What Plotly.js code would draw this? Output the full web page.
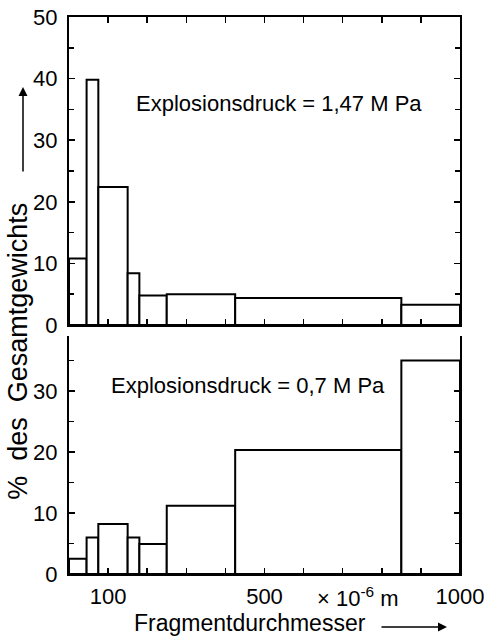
<!DOCTYPE html>
<html>
<head>
<meta charset="utf-8">
<script src="https://cdn.plot.ly/plotly-3.0.1.min.js"></script>
<style>
  html, body { margin: 0; padding: 0; background: #fff; }
  #chart { width: 484px; height: 640px; }
</style>
</head>
<body>
<div id="chart"></div>
<script>
// Sieve class edges (x 10^-6 m)
const binEdges = [0, 45, 75, 150, 180, 250, 425, 850, 1000];
// % of total weight per class, explosion pressure 1.47 MPa (top) and 0.7 MPa (bottom)
const share147 = [10.8, 39.8, 22.4, 8.4, 4.8, 5.0, 4.4, 3.3];
const share07 = [2.5, 6.0, 8.2, 6.0, 4.9, 11.2, 20.3, 35.0];
// Axis ticks
const xTickVals = [100, 200, 300, 400, 500, 600, 700, 800, 900, 1000];
const xTickText = ['100', '', '', '', '500', '', '', '', '', '1000'];
const yTopTicks = [0, 10, 20, 30, 40, 50];
const yBotTicks = [0, 10, 20, 30];
const labelTop = 'Explosionsdruck = 1,47 M Pa';
const labelBot = 'Explosionsdruck = 0,7 M Pa';
const yTitle = '%\u00a0 des\u00a0 Gesamtgewichts';
const xTitle = 'Fragmentdurchmesser';
const unitText = '\u00d7 10<sup>-6</sup> m';

const lefts = binEdges.slice(0, -1);
const widths = lefts.map((v, i) => binEdges[i + 1] - v);

const FONT = 'Liberation Sans, Arial, sans-serif';
const barStyle = { color: '#ffffff', line: { color: '#000', width: 2 } };
const L = 69, W = 391;
const px = v => (v - L) / W;

const traces = [
  { type: 'bar', x: lefts, y: share147, width: widths, offset: 0,
    marker: barStyle, xaxis: 'x', yaxis: 'y', hoverinfo: 'skip' },
  { type: 'bar', x: lefts, y: share07, width: widths, offset: 0,
    marker: barStyle, xaxis: 'x2', yaxis: 'y2', hoverinfo: 'skip' }
];

const common = {
  showgrid: false, zeroline: false, showline: true, linecolor: '#000', linewidth: 2,
  ticks: 'inside', tickcolor: '#000', tickwidth: 1.5, ticklen: 6,
  tickfont: { family: FONT, size: 22, color: '#000' }
};

const layout = {
  width: 484, height: 640,
  margin: { l: L, r: 484 - L - W, t: 17, b: 66 },
  paper_bgcolor: '#fff', plot_bgcolor: '#fff',
  showlegend: false,
  barmode: 'overlay',
  font: { family: FONT, size: 22, color: '#000' },
  xaxis: Object.assign({}, common, {
    domain: [0, 1], anchor: 'y', range: [0, 1000],
    tickmode: 'array', tickvals: xTickVals, showticklabels: false, mirror: 'ticks'
  }),
  xaxis3: Object.assign({}, common, {
    overlaying: 'x', anchor: 'y', side: 'bottom', range: [0, 1000], showline: false,
    ticks: 'outside', ticklen: 7, tickmode: 'array', tickvals: xTickVals.slice(0, 9),
    showticklabels: false
  }),
  yaxis: Object.assign({}, common, {
    domain: [0.447, 1], anchor: 'x', range: [0, 50],
    tickmode: 'array', tickvals: yTopTicks, mirror: 'ticks', ticklabelstandoff: 5,
    minor: { dtick: 5, tick0: 0, ticks: 'inside', ticklen: 5, tickwidth: 1.5, tickcolor: '#000' }
  }),
  xaxis2: Object.assign({}, common, {
    domain: [0, 1], anchor: 'y2', range: [0, 1000],
    tickmode: 'array', tickvals: xTickVals, ticktext: xTickText, mirror: false,
    ticklabelstandoff: 2, ticklabeloverflow: 'allow'
  }),
  yaxis2: Object.assign({}, common, {
    domain: [0, 0.4273], anchor: 'x2', range: [0, 39],
    tickmode: 'array', tickvals: yBotTicks, mirror: 'ticks', ticklabelstandoff: 5,
    minor: { dtick: 5, tick0: 0, ticks: 'inside', ticklen: 5, tickwidth: 1.5, tickcolor: '#000' }
  }),
  annotations: [
    { xref: 'x', yref: 'y', x: 537, y: 36, text: labelTop, showarrow: false,
      font: { family: FONT, size: 22 }, xanchor: 'center', yanchor: 'middle' },
    { xref: 'x2', yref: 'y2', x: 459, y: 30.9, text: labelBot, showarrow: false,
      font: { family: FONT, size: 22 }, xanchor: 'center', yanchor: 'middle' },
    { xref: 'paper', yref: 'paper', x: px(18), y: 0.399, text: yTitle, textangle: -90,
      showarrow: false, font: { family: FONT, size: 27 }, xanchor: 'center', yanchor: 'middle' },
    { xref: 'paper', yref: 'paper', x: px(23), y: 0.8743, text: '', showarrow: true,
      axref: 'pixel', ayref: 'pixel', ax: 0, ay: 86, arrowhead: 2, arrowsize: 1.2,
      arrowwidth: 1.5, arrowcolor: '#000' },
    { xref: 'paper', yref: 'paper', x: px(250), y: -0.088, text: xTitle, showarrow: false,
      font: { family: FONT, size: 23 }, xanchor: 'center', yanchor: 'middle' },
    { xref: 'paper', yref: 'paper', x: px(447), y: -0.095, text: '', showarrow: true,
      axref: 'pixel', ayref: 'pixel', ax: -67, ay: 0, arrowhead: 2, arrowsize: 1.2,
      arrowwidth: 1.5, arrowcolor: '#000' },
    { xref: 'paper', yref: 'paper', x: px(358), y: -0.042, text: unitText, showarrow: false,
      font: { family: FONT, size: 22 }, xanchor: 'center', yanchor: 'middle' }
  ]
};

Plotly.newPlot('chart', traces, layout, { staticPlot: true, displayModeBar: false });
</script>
</body>
</html>
